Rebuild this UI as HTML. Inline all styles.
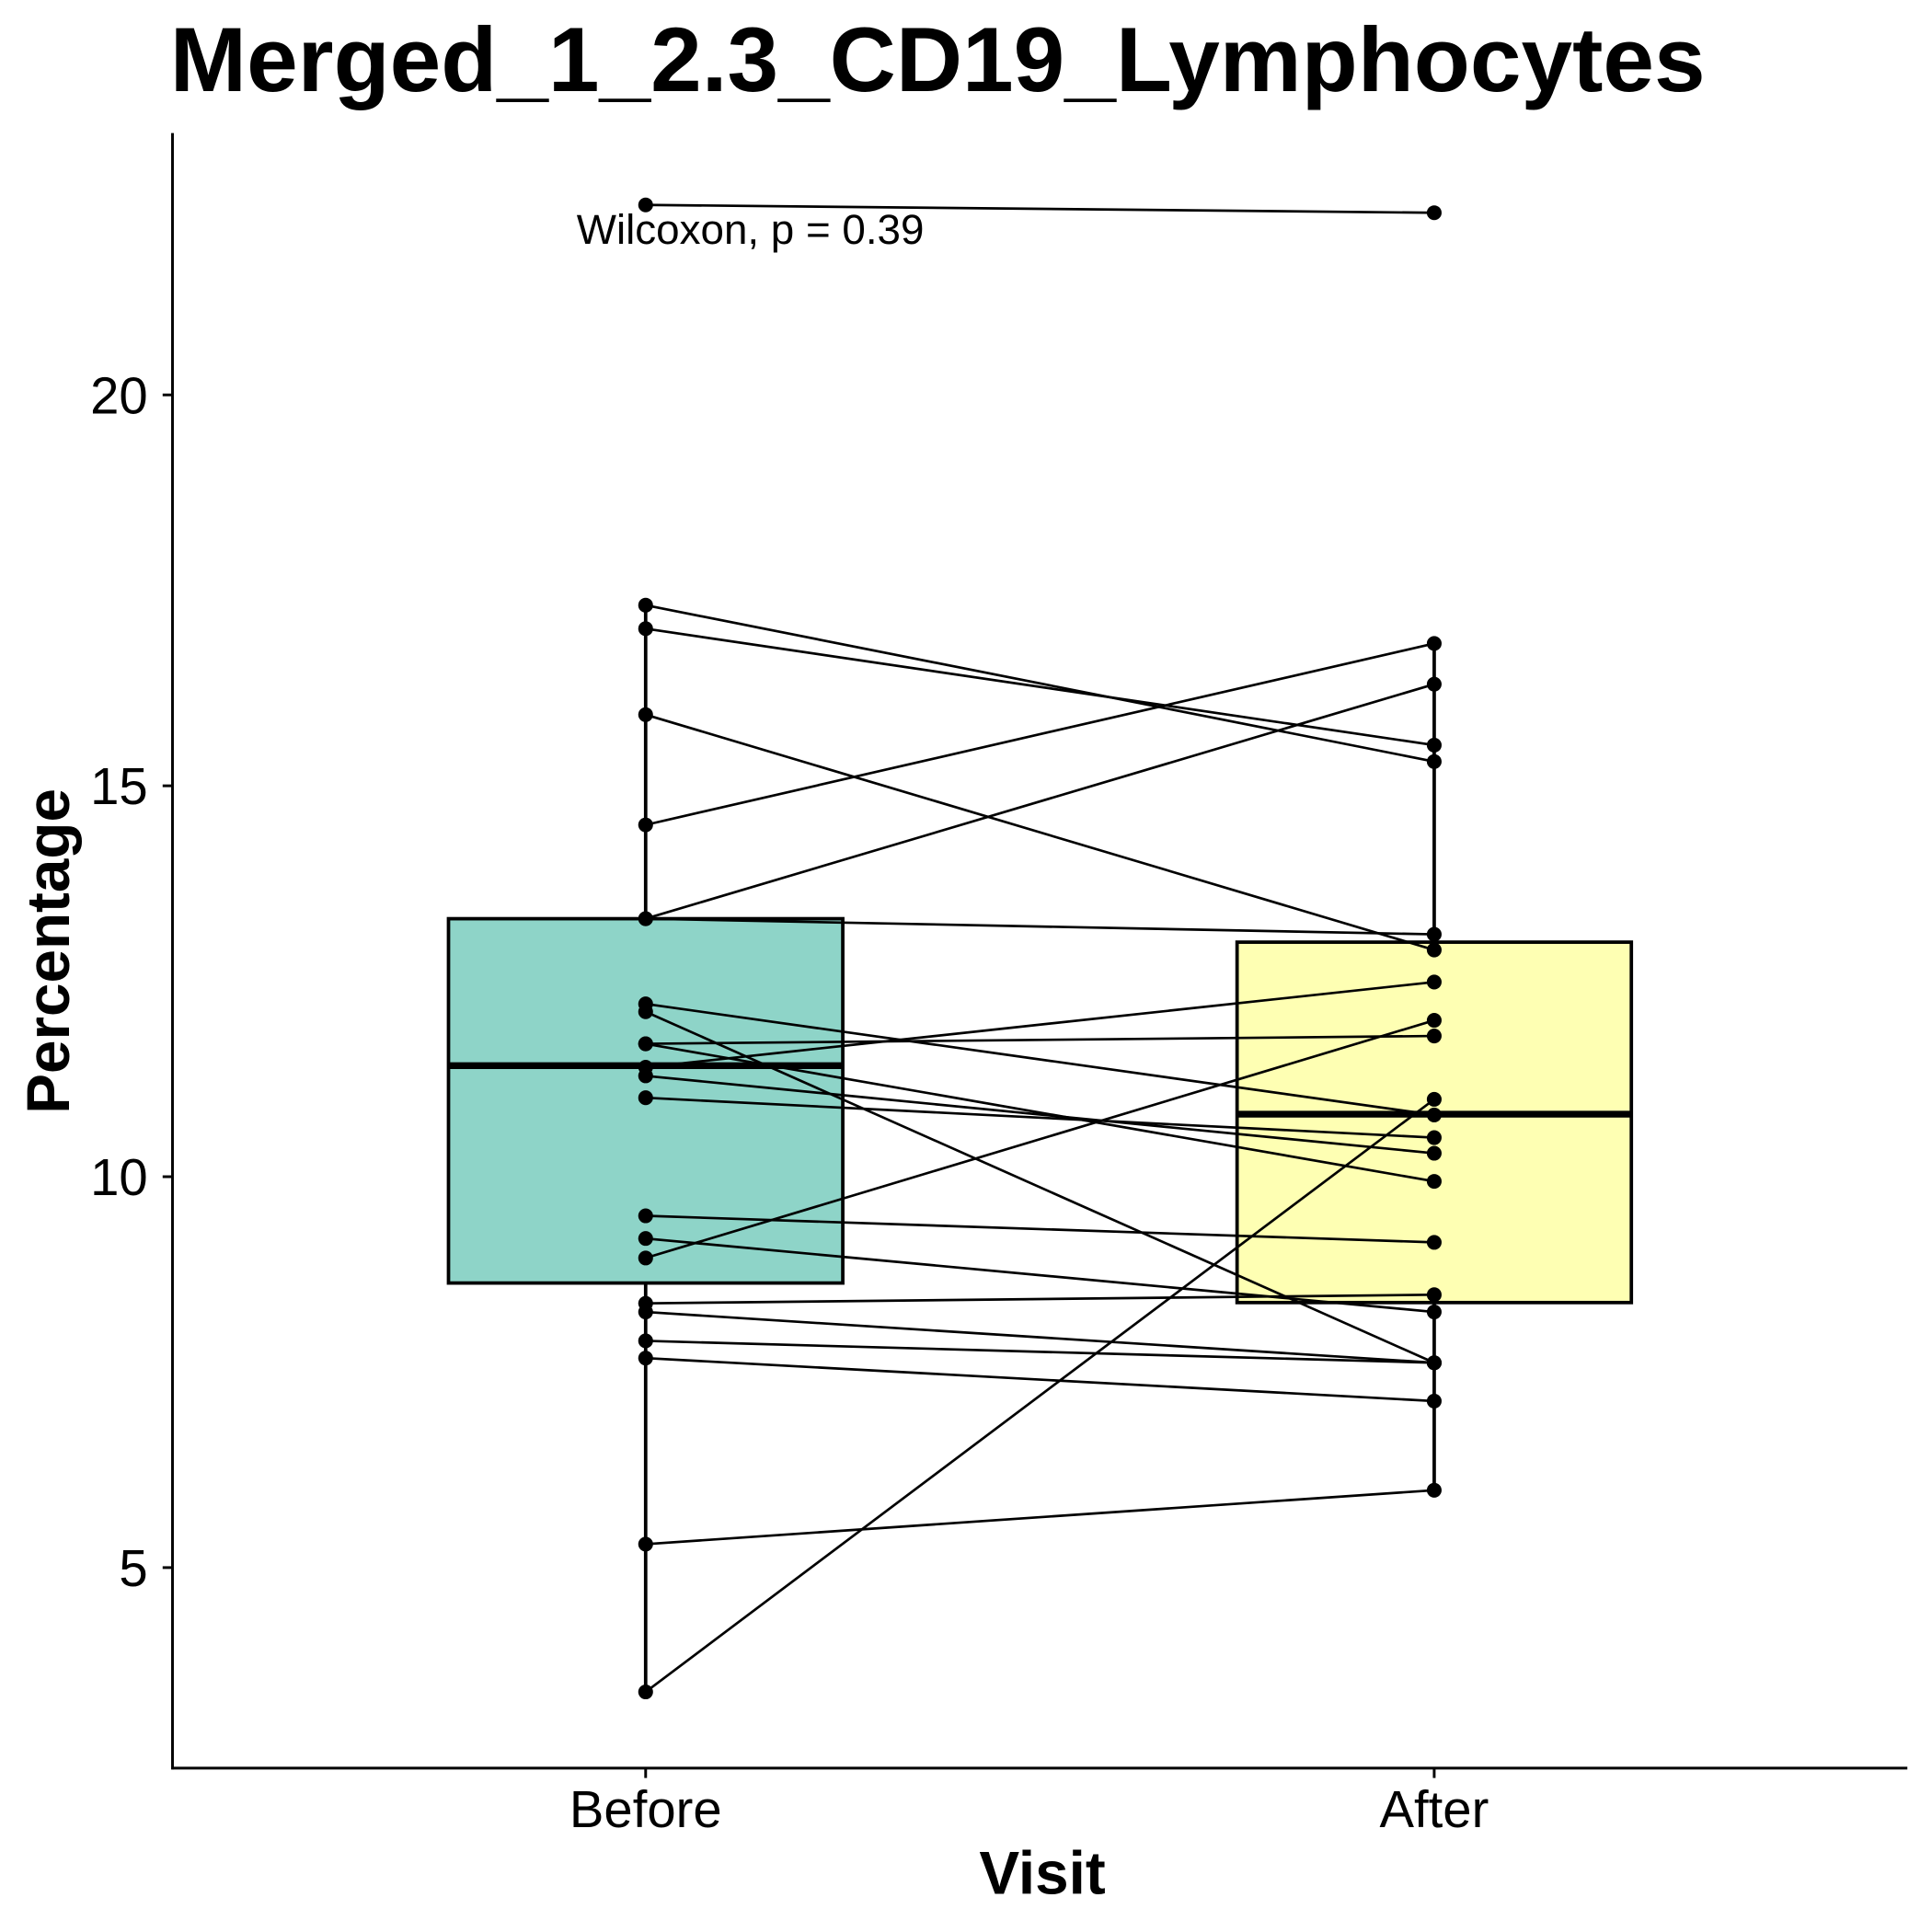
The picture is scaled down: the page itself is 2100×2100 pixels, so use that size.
<!DOCTYPE html>
<html><head><meta charset="utf-8"><style>
html,body{margin:0;padding:0;background:#fff;}
svg{display:block;font-family:"Liberation Sans",Arial,sans-serif;}
</style></head><body>
<svg id="chart" width="2100" height="2100" viewBox="0 0 1568 1568" xmlns="http://www.w3.org/2000/svg">
<rect width="1568" height="1568" fill="#fff"/>
<text x="138" y="74" font-size="74" font-weight="bold" textLength="1246" lengthAdjust="spacingAndGlyphs">Merged_1_2.3_CD19_Lymphocytes</text>
<g id="plot"></g>
<line x1="140" y1="108" x2="140" y2="1436" stroke="#000" stroke-width="2.2"/>
<line x1="139" y1="1435" x2="1548" y2="1435" stroke="#000" stroke-width="2.2"/>
<text x="846" y="1537" font-size="49" font-weight="bold" text-anchor="middle">Visit</text>
<text transform="translate(56,772) rotate(-90)" font-size="49" font-weight="bold" text-anchor="middle">Percentage</text>
<text x="468" y="198" font-size="34" textLength="282" lengthAdjust="spacingAndGlyphs">Wilcoxon, p = 0.39</text>
</svg>
<script>
const categories = ["Before","After"];
const beforeVals = [22.43,17.31,17.01,15.91,14.50,13.30,13.30,12.21,12.11,11.70,11.70,11.40,11.29,11.01,9.50,9.21,8.96,8.38,8.27,7.90,7.68,5.30,3.41];
const afterVals  = [22.33,15.31,15.52,12.90,16.82,16.30,13.10,10.79,7.62,11.80,9.94,12.49,10.30,10.50,9.16,8.27,12.00,8.49,7.62,7.62,7.13,5.99,10.99];
const boxQ1 = [8.64,8.39];
const boxMedian = [11.42,10.80];
const boxQ3 = [13.30,13.00];
const whiskLow = [3.41,5.99];
const whiskHigh = [17.31,16.82];
const boxFill = ["#8ed4c8","#feffb3"];
const yTicks = [5,10,15,20];

const NS="http://www.w3.org/2000/svg";
const g=document.getElementById('plot');
const y=v=>955-(v-10)*63.45;
const x=i=>524+i*640;
const halfW=160;
function mk(tag,attrs){const e=document.createElementNS(NS,tag);for(const k in attrs)e.setAttribute(k,attrs[k]);g.appendChild(e);return e;}

yTicks.forEach(t=>{
  const l=mk('line',{x1:132,x2:140,y1:y(t),y2:y(t),stroke:'#000','stroke-width':2.2});
  
  
  const tx=mk('text',{x:120,y:y(t)+15,'font-size':42,'text-anchor':'end'});
  tx.textContent=t;
  
  
});
categories.forEach((c,i)=>{
  const l=mk('line',{x1:x(i),x2:x(i),y1:1435,y2:1443,stroke:'#000','stroke-width':2.2});
  
  
  const tx=mk('text',{x:x(i),y:1483,'font-size':42,'text-anchor':'middle'});
  tx.textContent=c;
  
  
  const w=mk('line',{x1:x(i),x2:x(i),y1:y(whiskHigh[i]),y2:y(whiskLow[i]),stroke:'#000','stroke-width':2.8});
  
  
  const r=mk('rect',{x:x(i)-halfW,y:y(boxQ3[i]),width:halfW*2,height:y(boxQ1[i])-y(boxQ3[i]),fill:boxFill[i],stroke:'#000','stroke-width':2.8});
  
  
  const m=mk('line',{x1:x(i)-halfW,x2:x(i)+halfW,y1:y(boxMedian[i]),y2:y(boxMedian[i]),stroke:'#000','stroke-width':5.5});
  
  
});
beforeVals.forEach((b,k)=>{
  const a=afterVals[k];
  const l=mk('line',{x1:x(0),y1:y(b),x2:x(1),y2:y(a),stroke:'#000','stroke-width':2});
  
  
  const p1=mk('circle',{cx:x(0),cy:y(b),r:6,fill:'#000'});
  
  
  const p2=mk('circle',{cx:x(1),cy:y(a),r:6,fill:'#000'});
  
  
});
</script>
</body></html>
